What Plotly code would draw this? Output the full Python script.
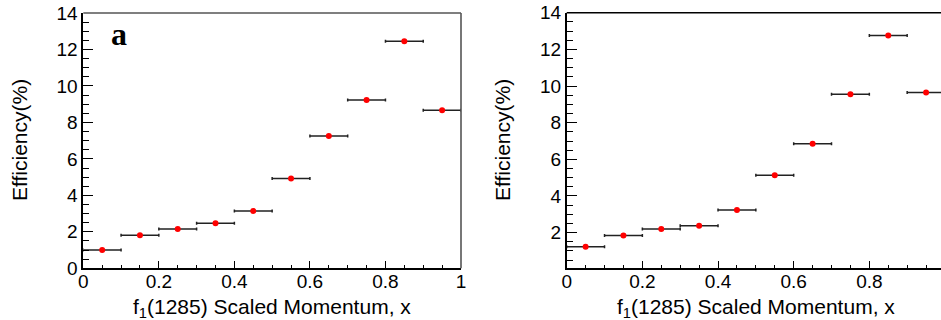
import plotly.graph_objects as go

# ---- data ----
x_centers = [0.05, 0.15, 0.25, 0.35, 0.45, 0.55, 0.65, 0.75, 0.85, 0.95]
x_half_width = [0.05] * 10
eff_a = [1.00, 1.81, 2.16, 2.47, 3.14, 4.92, 7.26, 9.23, 12.45, 8.67]
eff_b = [1.23, 1.85, 2.20, 2.38, 3.24, 5.13, 6.85, 9.55, 12.75, 9.64]
y_ticks = [0, 2, 4, 6, 8, 10, 12, 14]
x_ticks = [0, 0.2, 0.4, 0.6, 0.8, 1]

W, H = 941, 320
FONT = "Liberation Sans, Arial, sans-serif"
TICKFONT = dict(family=FONT, size=19, color="black")

fig = go.Figure()

for i, (vals, xa, ya) in enumerate([(eff_a, "x", "y"), (eff_b, "x2", "y2")]):
    fig.add_trace(go.Scatter(
        x=x_centers, y=vals, xaxis=xa, yaxis=ya, mode="markers",
        marker=dict(color="#ff0000", size=6, line=dict(width=0)),
        error_x=dict(type="data", array=x_half_width, symmetric=True,
                     color="#222222", thickness=1.5, width=1.5),
        showlegend=False, cliponaxis=False if i == 0 else True,
    ))

def xaxis_cfg(domain, rng):
    return dict(domain=domain, range=rng, tickmode="array", tickvals=x_ticks,
                ticks="inside", ticklen=8, tickwidth=1.2, tickcolor="black",
                showline=True, linecolor="black", linewidth=1.6,
                showgrid=False, zeroline=False, tickfont=TICKFONT,
                automargin=False, ticklabelstandoff=-5,
                minor=dict(dtick=0.05, tick0=0, ticks="inside", ticklen=4,
                           tickwidth=1.2, tickcolor="black", showgrid=False),
                fixedrange=True)

def yaxis_cfg(domain, rng, anchor):
    return dict(domain=domain, range=rng, anchor=anchor, tickmode="array",
                tickvals=y_ticks, ticks="inside", ticklen=10, tickwidth=1.2,
                tickcolor="black", showline=True, linecolor="black",
                linewidth=1.6, showgrid=False, zeroline=False,
                tickfont=TICKFONT, automargin=False,
                minor=dict(dtick=0.5, tick0=0, ticks="inside", ticklen=6,
                           tickwidth=1.2, tickcolor="black", showgrid=False),
                fixedrange=True)

xl0, xl1 = 83.3 / W, 461 / W
xr0 = 566.7 / W
yb = 1 - 268.3 / H
yt_l = 1 - 13 / H
yt_r = 1 - 12.7 / H

fig.update_layout(
    width=W, height=H,
    margin=dict(l=0, r=0, t=0, b=0, pad=0),
    paper_bgcolor="white", plot_bgcolor="white",
    xaxis=xaxis_cfg([xl0, xl1], [0, 1]) | dict(anchor="y"),
    yaxis=yaxis_cfg([yb, yt_l], [0, 14], "x"),
    xaxis2=xaxis_cfg([xr0, 1.0], [0, (W - 566.7) / 378.3]) | dict(anchor="y2"),
    yaxis2=yaxis_cfg([yb, yt_r], [0.055, 14], "x2"),
)

# frame lines (top/right of left panel, top of right panel)
fig.add_shape(type="line", xref="x domain", yref="y domain",
              x0=0, x1=1, y0=1, y1=1, line=dict(color="#555555", width=1.6))
fig.add_shape(type="line", xref="x domain", yref="y domain",
              x0=1, x1=1, y0=0, y1=1, line=dict(color="#555555", width=1.6))
fig.add_shape(type="line", xref="x2 domain", yref="y2 domain",
              x0=0, x1=1, y0=1, y1=1, line=dict(color="black", width=1.4))

title_font = dict(family=FONT, size=21, color="black")
xtitle = "f<sub>1</sub>(1285) Scaled Momentum, x"
fig.add_annotation(text=xtitle, xref="x domain", x=0.5, yref="paper",
                   y=1 - 308 / H, yanchor="middle", xanchor="center",
                   showarrow=False, font=title_font)
fig.add_annotation(text=xtitle, xref="x2", x=0.5, yref="paper",
                   y=1 - 308 / H, yanchor="middle", xanchor="center",
                   showarrow=False, font=title_font)
fig.add_annotation(text="Efficiency(%)", xref="paper", x=19 / W,
                   yref="paper", y=1 - 140 / H, textangle=-90,
                   xanchor="center", yanchor="middle", showarrow=False,
                   font=title_font)
fig.add_annotation(text="Efficiency(%)", xref="paper", x=502 / W,
                   yref="paper", y=1 - 140 / H, textangle=-90,
                   xanchor="center", yanchor="middle", showarrow=False,
                   font=title_font)
fig.add_annotation(text="<b>a</b>", xref="paper", x=119 / W, yref="paper",
                   y=1 - 34 / H, xanchor="center", yanchor="middle",
                   showarrow=False,
                   font=dict(family="Liberation Serif, Times New Roman, serif",
                             size=32, color="black"))

fig.write_html("out.html")
